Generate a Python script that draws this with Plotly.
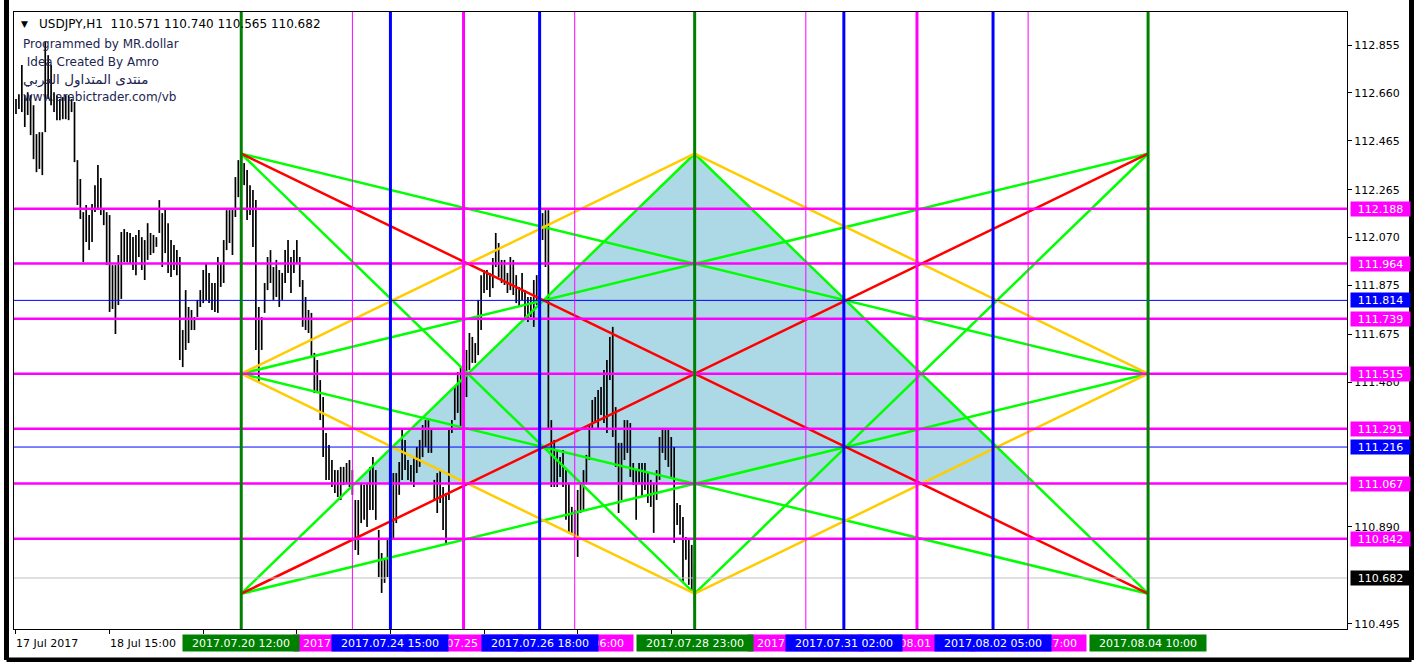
import plotly.graph_objects as go

# ---------------- DATA ----------------
bar_index = list(range(233))  # H1 bars; 0 = 17 Jul 07:00, 77 = 2017.07.20 12:00, 232 = 2017.07.28 23:00
highs = [
    112.635, 112.655, 112.774, 112.651, 112.663, 112.651, 112.610, 112.492, 112.500, 112.500,
    112.867, 112.814, 112.774, 112.663, 112.651, 112.635, 112.643, 112.651, 112.651, 112.635,
    112.623, 112.386, 112.309, 112.174, 112.203, 112.162, 112.207, 112.284, 112.366, 112.313,
    112.187, 112.174, 112.162, 111.958, 111.958, 111.999, 112.093, 112.105, 112.093, 112.089,
    112.072, 112.081, 112.101, 112.072, 112.060, 112.129, 112.089, 112.081, 112.072, 112.223,
    112.170, 112.191, 112.129, 112.060, 112.040, 112.019, 111.991, 111.693, 111.856, 111.787,
    111.775, 111.746, 111.816, 111.856, 111.938, 111.966, 111.926, 111.885, 111.885, 111.991,
    111.966, 112.060, 112.182, 112.182, 112.191, 112.317, 112.386, 112.412, 112.374, 112.346,
    112.284, 112.264, 112.223, 111.787, 111.746, 111.885, 111.991, 112.019, 111.950, 111.979,
    111.938, 111.926, 112.019, 112.060, 111.991, 112.019, 112.060, 111.991, 111.897, 111.828,
    111.775, 111.763, 111.600, 111.571, 111.489, 111.420, 111.273, 111.224, 111.163, 111.122,
    111.122, 111.135, 111.135, 111.151, 111.163, 111.122, 111.000, 111.000, 111.070, 111.061,
    111.070, 111.135, 111.175, 111.122, 110.878, 110.784, 110.756, 110.837, 110.878, 111.110,
    111.110, 111.155, 111.286, 111.245, 111.163, 111.143, 111.175, 111.216, 111.245, 111.306,
    111.326, 111.326, 111.286, 111.082, 111.110, 111.122, 111.053, 111.029, 111.286, 111.326,
    111.461, 111.522, 111.542, 111.571, 111.612, 111.681, 111.665, 111.640, 111.816, 111.917,
    111.938, 111.938, 111.926, 111.987, 112.089, 112.048, 111.979, 111.979, 111.926, 111.991,
    111.979, 111.917, 111.869, 111.926, 111.856, 111.828, 111.828, 111.897, 111.917, 112.081,
    112.170, 112.182, 112.182, 111.326, 111.245, 111.204, 111.175, 111.204, 111.122, 111.070,
    110.972, 110.959, 111.041, 111.070, 111.122, 111.184, 111.306, 111.408, 111.420, 111.449,
    111.461, 111.530, 111.571, 111.665, 111.706, 111.379, 111.233, 111.233, 111.326, 111.326,
    111.314, 111.151, 111.122, 111.151, 111.151, 111.151, 111.110, 111.082, 111.070, 111.122,
    111.257, 111.286, 111.286, 111.286, 111.257, 111.216, 110.988, 110.980, 110.931, 110.849,
    110.837, 110.817, 110.740,
]
lows = [
    112.574, 112.594, 112.582, 112.521, 112.570, 112.488, 112.390, 112.337, 112.350, 112.325,
    112.500, 112.635, 112.610, 112.582, 112.549, 112.549, 112.553, 112.553, 112.549, 112.582,
    112.378, 112.203, 112.146, 111.970, 112.052, 112.019, 112.052, 112.174, 112.187, 112.162,
    112.121, 111.958, 111.767, 111.779, 111.677, 111.795, 111.820, 111.970, 111.970, 111.966,
    111.938, 111.917, 111.991, 111.938, 111.897, 111.979, 111.999, 112.007, 112.032, 112.089,
    111.950, 112.007, 111.926, 111.909, 111.938, 111.917, 111.571, 111.542, 111.612, 111.640,
    111.693, 111.693, 111.746, 111.787, 111.803, 111.816, 111.803, 111.775, 111.767, 111.763,
    111.869, 111.885, 112.019, 112.048, 111.999, 112.154, 112.235, 112.293, 112.284, 112.142,
    112.162, 112.032, 111.612, 111.477, 111.612, 111.763, 111.856, 111.885, 111.816, 111.828,
    111.787, 111.816, 111.885, 111.926, 111.844, 111.926, 111.966, 111.869, 111.706, 111.693,
    111.681, 111.583, 111.436, 111.436, 111.326, 111.175, 111.082, 111.082, 111.053, 111.029,
    111.012, 111.000, 111.061, 111.070, 111.053, 111.021, 110.796, 110.776, 110.906, 110.919,
    110.890, 110.959, 110.959, 110.919, 110.686, 110.621, 110.662, 110.686, 110.735, 110.837,
    110.906, 111.021, 111.082, 111.122, 111.082, 111.074, 111.053, 111.110, 111.135, 111.175,
    111.216, 111.192, 111.192, 111.000, 110.947, 110.988, 110.878, 110.825, 111.000, 111.273,
    111.326, 111.355, 111.298, 111.379, 111.420, 111.530, 111.559, 111.559, 111.591, 111.693,
    111.844, 111.856, 111.828, 111.864, 111.950, 111.909, 111.885, 111.877, 111.844, 111.856,
    111.836, 111.803, 111.787, 111.816, 111.734, 111.726, 111.746, 111.706, 111.795, 111.877,
    112.060, 111.950, 111.286, 111.053, 111.053, 111.053, 111.094, 111.053, 110.919, 110.866,
    110.866, 110.837, 110.768, 110.947, 110.959, 111.070, 111.163, 111.286, 111.314, 111.286,
    111.347, 111.314, 111.273, 111.489, 111.257, 111.135, 110.947, 111.000, 111.163, 111.192,
    111.094, 111.061, 110.919, 111.070, 111.012, 111.041, 110.988, 110.972, 110.866, 111.000,
    111.082, 111.192, 111.163, 111.135, 111.094, 110.825, 110.898, 110.858, 110.662, 110.756,
    110.654, 110.633, 110.565,
]

axis_tick_bars = [0, 32, 64, 96, 128, 160, 192, 224]
axis_tick_labels = ["17 Jul 2017", "18 Jul 15:00"]  # the only ones not hidden by boxes

# pattern anchors (time columns x price rows)
pattern_bars = [77, 232, 387]
pattern_prices = [112.412, 111.515, 110.618]
fill_base_price = 111.067

magenta_levels = [112.188, 111.964, 111.739, 111.515, 111.291, 111.067, 110.842]
blue_levels = [111.814, 111.216]
current_price = 110.682

green_vbars = [77, 232, 387]
green_vlabels = ["2017.07.20 12:00", "2017.07.28 23:00", "2017.08.04 10:00"]
blue_vbars = [128, 179, 283, 334]
blue_vlabels = ["2017.07.24 15:00", "2017.07.26 18:00", "2017.07.31 02:00", "2017.08.02 05:00"]
magenta_vbars = [115, 153, 191, 270, 308, 346]
magenta_vlabels = ["2017.07.24 02:00", "2017.07.25 16:00", "2017.07.27 06:00",
                   "2017.07.30 13:00", "2017.08.01 03:00", "2017.08.02 17:00"]
magenta_vthick = [False, True, False, False, True, False]

price_ticks = [112.855, 112.660, 112.465, 112.265, 112.070, 111.875, 111.675, 111.480, 110.890, 110.495]

title_text = "USDJPY,H1  110.571 110.740 110.565 110.682"
comment_lines = ["Programmed by MR.dollar", "\u00a0Idea Created By Amro",
                 "منتدى المتداول العربي", "www.arabictrader.com/vb"]
comment_sizes = [12, 12, 13.5, 12]

# pattern segments: (color, (col,row), (col,row))
GREEN, RED, GOLD = "#00FF00", "#FF0000", "#FFCC00"
segments = [
    (GREEN, (0, 0), (1, 2)), (GREEN, (0, 2), (1, 0)), (GREEN, (1, 0), (2, 2)), (GREEN, (1, 2), (2, 0)),
    (GREEN, (0, 0), (2, 1)), (GREEN, (0, 2), (2, 1)), (GREEN, (0, 1), (2, 0)), (GREEN, (0, 1), (2, 2)),
    (GOLD, (0, 1), (1, 0)), (GOLD, (0, 1), (1, 2)), (GOLD, (1, 0), (2, 1)), (GOLD, (1, 2), (2, 1)),
    (RED, (0, 0), (2, 2)), (RED, (0, 2), (2, 0)),
]

FONT = "DejaVu Sans"
X_RANGE = [-0.68, 455.0]
Y_RANGE = [110.474, 112.990]

# ---------------- FIGURE ----------------
fig = go.Figure()

# light-blue triangle: apex at top-centre, base on the 111.067 level between the two green legs
def on_line(p0, p1, price):
    (x0, y0), (x1, y1) = p0, p1
    return x0 + (price - y0) * (x1 - x0) / (y1 - y0)

C = (pattern_bars[0], pattern_prices[2])
D = (pattern_bars[1], pattern_prices[0])
I = (pattern_bars[2], pattern_prices[2])
tri_x = [on_line(C, D, fill_base_price), D[0], on_line(D, I, fill_base_price)]
tri_y = [fill_base_price, D[1], fill_base_price]
fig.add_trace(go.Scatter(x=tri_x, y=tri_y, fill="toself", fillcolor="#ADD8E6",
                         line=dict(width=0), mode="lines", hoverinfo="skip", showlegend=False))

# price bars (vertical high-low strokes)
bx, by = [], []
for i, h, l in zip(bar_index, highs, lows):
    bx += [i, i, None]
    by += [l, h, None]
fig.add_trace(go.Scatter(x=bx, y=by, mode="lines", line=dict(color="#000000", width=1.7),
                         hoverinfo="skip", showlegend=False, connectgaps=False))

shapes = []
# horizontal lines
shapes.append(dict(type="line", xref="paper", yref="y", x0=0, x1=1, y0=current_price, y1=current_price,
                   line=dict(color="#C0C0C0", width=1), layer="above"))
for lv in magenta_levels:
    shapes.append(dict(type="line", xref="paper", yref="y", x0=0, x1=1, y0=lv, y1=lv,
                       line=dict(color="#FF00FF", width=2.5), layer="above"))
for lv in blue_levels:
    shapes.append(dict(type="line", xref="paper", yref="y", x0=0, x1=1, y0=lv, y1=lv,
                       line=dict(color="#0000FF", width=1), layer="above"))
# vertical lines
for b, thick in zip(magenta_vbars, magenta_vthick):
    shapes.append(dict(type="line", xref="x", yref="paper", x0=b, x1=b, y0=0, y1=1,
                       line=dict(color="#FF00FF", width=3 if thick else 1), layer="above"))
for b in blue_vbars:
    shapes.append(dict(type="line", xref="x", yref="paper", x0=b, x1=b, y0=0, y1=1,
                       line=dict(color="#0000FF", width=3), layer="above"))
for b in green_vbars:
    shapes.append(dict(type="line", xref="x", yref="paper", x0=b, x1=b, y0=0, y1=1,
                       line=dict(color="#008000", width=3), layer="above"))
# outer thick frame of the screenshot (four sides, paper coordinates)
FX0, FX1, FY0, FY1 = -0.00563, 1.04839, -0.05024, 1.02431
for (xa, ya, xb, yb) in [(FX0, FY1, FX1, FY1), (FX0, FY0, FX1, FY0), (FX0, FY0, FX0, FY1), (FX1, FY0, FX1, FY1)]:
    shapes.append(dict(type="line", xref="paper", yref="paper", x0=xa, y0=ya, x1=xb, y1=yb,
                       line=dict(color="#000000", width=5), layer="above"))

# pattern lines
for color, a, b in segments:
    fig.add_trace(go.Scatter(
        x=[pattern_bars[a[0]], pattern_bars[b[0]]],
        y=[pattern_prices[a[1]], pattern_prices[b[1]]],
        mode="lines", line=dict(color=color, width=2.5),
        hoverinfo="skip", showlegend=False))

annotations = []
# bottom axis date labels (left aligned after tick)
for b, t in zip(axis_tick_bars, axis_tick_labels):
    annotations.append(dict(x=b, y=0, xref="x", yref="paper", xanchor="left", yanchor="top",
                            xshift=-2, yshift=-6, text=t, showarrow=False,
                            font=dict(family=FONT, size=11, color="#000000")))

def time_box(b, label, color):
    return dict(x=b, y=0, xref="x", yref="paper", xanchor="center", yanchor="top",
                yshift=-5, text=label, showarrow=False, bgcolor=color, width=114, height=14,
                borderpad=1, font=dict(family=FONT, size=11, color="#FFFFFF"))

for b, t in zip(magenta_vbars, magenta_vlabels):
    annotations.append(time_box(b, t, "#FF00FF"))
for b, t in zip(blue_vbars, blue_vlabels):
    annotations.append(time_box(b, t, "#0000FF"))
for b, t in zip(green_vbars, green_vlabels):
    annotations.append(time_box(b, t, "#008000"))

def price_box(level, color):
    return dict(x=1, y=level, xref="paper", yref="y", xanchor="left", yanchor="middle",
                xshift=3, text=f"{level:.3f}", showarrow=False, bgcolor=color,
                width=57, height=12, borderpad=1,
                font=dict(family=FONT, size=11, color="#FFFFFF"))

for lv in magenta_levels:
    annotations.append(price_box(lv, "#FF00FF"))
for lv in blue_levels:
    annotations.append(price_box(lv, "#0000FF"))
annotations.append(price_box(current_price, "#000000"))

# title line and comments
annotations.append(dict(x=0, y=1, xref="paper", yref="paper", xanchor="left", yanchor="middle",
                        xshift=5, yshift=-12, text="\u25BC", showarrow=False,
                        font=dict(family=FONT, size=9, color="#000000")))
annotations.append(dict(x=0, y=1, xref="paper", yref="paper", xanchor="left", yanchor="middle",
                        xshift=23, yshift=-12, text=title_text, showarrow=False,
                        font=dict(family=FONT, size=12, color="#000000")))
for k, (line, sz) in enumerate(zip(comment_lines, comment_sizes)):
    annotations.append(dict(x=0, y=1, xref="paper", yref="paper", xanchor="left", yanchor="middle",
                            xshift=7, yshift=-32 - 17.5 * k, text=line, showarrow=False,
                            font=dict(family=FONT, size=sz, color="#1C2450")))

fig.update_layout(
    width=1416, height=662,
    margin=dict(l=14, r=69, t=12, b=33),
    paper_bgcolor="#FFFFFF", plot_bgcolor="#FFFFFF",
    showlegend=False,
    shapes=shapes, annotations=annotations,
    font=dict(family=FONT, size=11, color="#000000"),
    xaxis=dict(range=X_RANGE, showgrid=False, zeroline=False, showline=True, mirror=True,
               linecolor="#000000", linewidth=1, ticks="outside", ticklen=4, tickcolor="#000000",
               tickvals=axis_tick_bars, showticklabels=False, fixedrange=True),
    yaxis=dict(range=Y_RANGE, side="right", showgrid=False, zeroline=False, showline=True,
               mirror=True, linecolor="#000000", linewidth=1, ticks="outside", ticklen=4,
               tickcolor="#000000", tickvals=price_ticks, ticktext=[f"{p:.3f}" for p in price_ticks],
               tickfont=dict(family=FONT, size=11, color="#000000"), fixedrange=True),
)

fig.write_html("out.html", config={"displayModeBar": False},
               post_script="document.body.style.margin='0px';document.body.style.overflow='hidden';")
